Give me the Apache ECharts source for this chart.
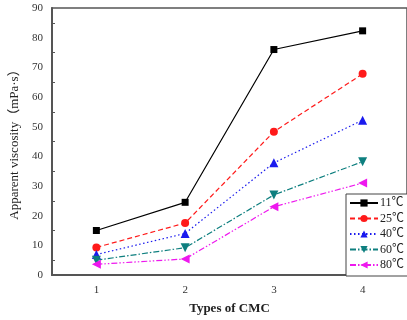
<!DOCTYPE html>
<html>
<head>
<meta charset="utf-8">
<script src="https://cdn.jsdelivr.net/npm/echarts@6/dist/echarts.min.js"></script>
<style>
  html, body { margin: 0; padding: 0; background: #fff; }
  #chart { width: 407px; height: 320px; }
</style>
</head>
<body>
<div id="chart"></div>
<script>
// CMC types on the x axis
const categories = ['1', '2', '3', '4'];

// Apparent viscosity (mPa·s) at each temperature
const v11 = [15.0, 24.5, 76.0, 82.3];
const v25 = [9.3, 17.5, 48.3, 67.8];
const v40 = [6.9, 14.0, 37.8, 52.2];
const v60 = [5.0, 9.2, 27.0, 38.2];
const v80 = [3.6, 5.4, 23.0, 31.0];

const seriesNames = ['11℃', '25℃', '40℃', '60℃', '80℃'];

const serif = '"Liberation Serif", "Noto Sans CJK SC", serif';
const axisColor = '#555';

function line(name, data, color, symbol, lineType, rotate, size) {
  return {
    name: name,
    type: 'line',
    data: data,
    symbol: symbol,
    symbolSize: size,
    symbolRotate: rotate,
    itemStyle: { color: color },
    lineStyle: { color: color, width: 1.2, type: lineType },
    z: 3
  };
}

const chart = echarts.init(document.getElementById('chart'));
chart.setOption({
  animation: false,
  backgroundColor: '#fff',
  grid: {
    left: 50, top: 8, right: -5, bottom: 44,
    show: true, borderColor: axisColor, borderWidth: 1.5
  },
  xAxis: {
    type: 'category',
    data: categories,
    boundaryGap: true,
    name: 'Types of CMC',
    nameLocation: 'middle',
    nameGap: 27,
    nameTextStyle: { fontFamily: serif, fontSize: 13, color: '#222', fontWeight: 'bold' },
    axisLine: { lineStyle: { color: axisColor, width: 2 } },
    axisTick: { inside: true, alignWithLabel: true, length: 5, lineStyle: { color: axisColor } },
    axisLabel: { fontFamily: serif, fontSize: 11, color: '#333', margin: 10 },
    splitLine: { show: false }
  },
  yAxis: {
    type: 'value',
    min: 0, max: 90, interval: 10,
    name: 'Apparent viscosity（mPa·s）',
    nameLocation: 'middle',
    nameGap: 31,
    nameTextStyle: { fontFamily: serif, fontSize: 13, color: '#222' },
    axisLine: { show: true, lineStyle: { color: axisColor, width: 2 } },
    axisTick: { inside: true, length: 5, lineStyle: { color: axisColor } },
    minorTick: { show: true, splitNumber: 2, length: 3, lineStyle: { color: axisColor } },
    axisLabel: { fontFamily: serif, fontSize: 11, color: '#333', margin: 9 },
    splitLine: { show: false }
  },
  legend: {
    data: seriesNames,
    orient: 'vertical',
    left: 346, top: 194,
    itemWidth: 28, itemHeight: 9,
    itemGap: 3.5,
    padding: [3, 4, 5, 3],
    borderColor: '#444', borderWidth: 1,
    backgroundColor: '#fff',
    textStyle: { fontFamily: serif, fontSize: 12, color: '#222', padding: [0, 0, 0, -3] }
  },
  series: [
    line(seriesNames[0], v11, '#000000', 'rect', 'solid', 0, 7),
    line(seriesNames[1], v25, '#ff1a1a', 'circle', [5, 3], 0, 8),
    line(seriesNames[2], v40, '#1a1aee', 'triangle', [1.5, 2.5], 0, 9),
    line(seriesNames[3], v60, '#0e7f7f', 'triangle', [6, 2, 1.5, 2], 180, 9),
    line(seriesNames[4], v80, '#ee18ee', 'triangle', [6, 2, 1.5, 2, 1.5, 2], 90, 9)
  ]
});
</script>
</body>
</html>
